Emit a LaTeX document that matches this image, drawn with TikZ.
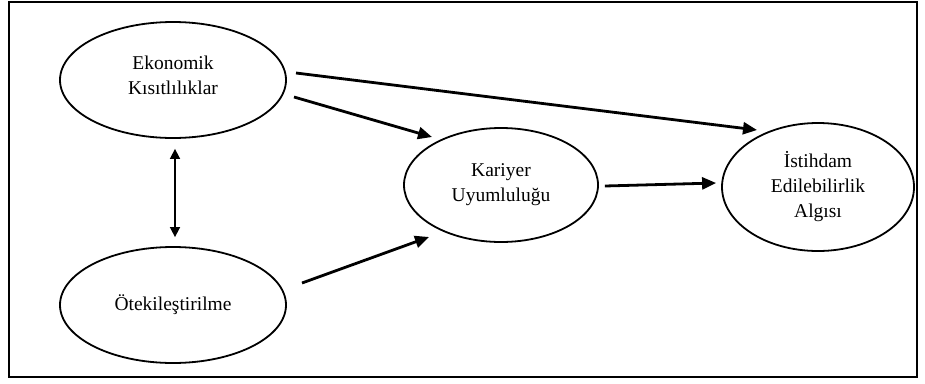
\documentclass[tikz,border=0pt]{standalone}
\usepackage{fontspec}
\setmainfont{Liberation Serif}
\usetikzlibrary{shapes.geometric,arrows.meta,calc}
\begin{document}
\begin{tikzpicture}[x=1pt,y=-1pt,
  txt/.style={align=center,font=\fontsize{19.5}{25}\selectfont},
  construct/.style={draw,ellipse,line width=1.8pt,inner sep=0pt,txt},
  path arrow/.style={line width=2.8pt,-{Triangle[length=14pt,width=12pt]}},
  corr arrow/.style={line width=1.6pt,{Triangle[length=10pt,width=10pt]}-{Triangle[length=10pt,width=10pt]}}]
\useasboundingbox (0,0) rectangle (925,383);
% outer frame
\draw[line width=2pt] (9,1.5) rectangle (917,377);

% constructs
\node[construct,minimum width=226pt,minimum height=116pt,
  label={[txt,yshift=5pt]center:Ekonomik\\Kısıtlılıklar}] (ek) at (173,80) {};
\node[construct,minimum width=226pt,minimum height=116pt] (ot) at (173,305) {Ötekileştirilme};
\node[construct,minimum width=194pt,minimum height=114pt] (kar) at (501,185) {Kariyer\\Uyumluluğu};
\node[construct,minimum width=192pt,minimum height=128pt] (ist) at (818,187) {İstihdam\\Edilebilirlik\\Algısı};

% structural paths
\draw[path arrow] ($(ek.center)+(123,-7)$) -- ($(ist.center)+(-61,-57)$);
\draw[path arrow] ($(ek.center)+(121,17)$) -- ($(kar.center)+(-69,-48)$);
\draw[path arrow] ($(ot.center)+(129,-22)$) -- ($(kar.center)+(-72,52)$);
\draw[path arrow] ($(kar.east)+(6,1)$) -- ($(ist.west)+(-5,-4)$);

% correlation
\draw[corr arrow] ($(ek.south)+(2,10)$) -- ($(ot.north)+(2,-9)$);
\end{tikzpicture}
\end{document}
